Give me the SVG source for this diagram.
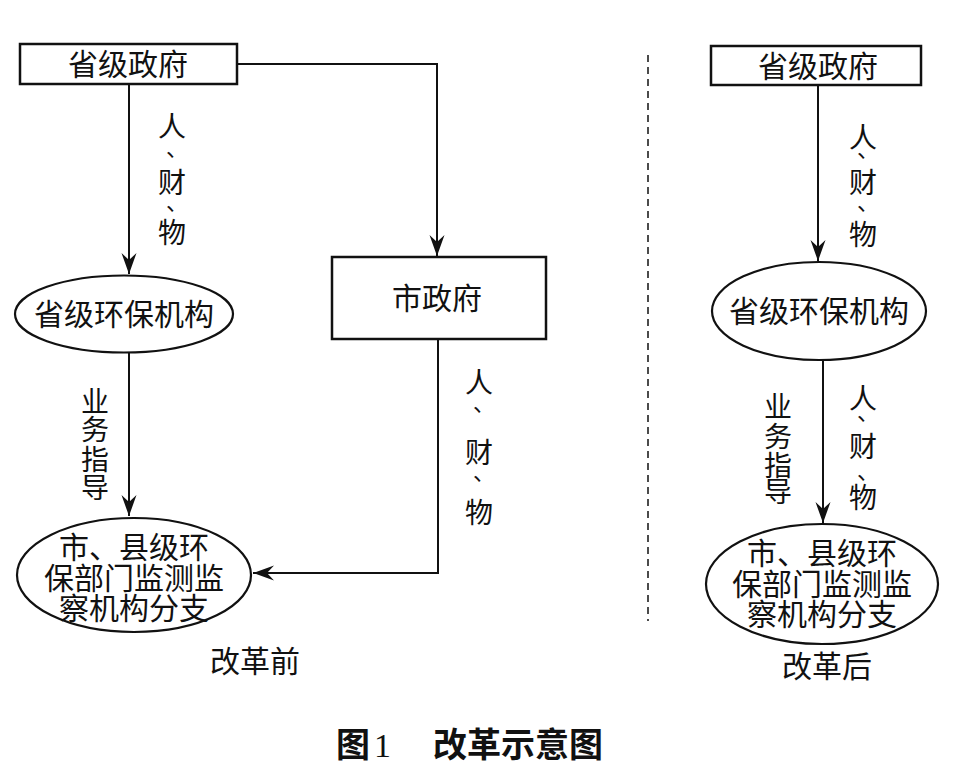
<svg xmlns="http://www.w3.org/2000/svg" width="955" height="783" viewBox="0 0 955 783">
<defs>
<style>
.t{font-family:"Noto Sans CJK SC","Liberation Serif",sans-serif;font-size:30px;fill:#111;text-anchor:middle;}
.l{font-family:"Noto Sans CJK SC","Liberation Serif",sans-serif;font-size:28px;fill:#111;text-anchor:middle;}
.d{font-family:"Noto Sans CJK SC","Liberation Serif",sans-serif;font-size:22px;fill:#111;}
.box{fill:#fff;stroke:#111;stroke-width:2.5;}
.ell{fill:#fff;stroke:#111;stroke-width:2.2;}
.c{fill:none;stroke:#111;stroke-width:2;}
.cap{font-family:"Noto Sans CJK SC",sans-serif;font-size:34px;font-weight:bold;fill:#111;}
</style>
<marker id="ah" viewBox="-22 -8 22 16" refX="0" refY="0" markerWidth="22" markerHeight="16" markerUnits="userSpaceOnUse" orient="auto">
<path d="M0,0 L-21,-7.5 L-14,0 L-21,7.5 Z" fill="#111"/>
</marker>
</defs>
<rect width="955" height="783" fill="#fff"/>

<g id="connectors">
<line class="c" x1="129" y1="84" x2="129" y2="274" marker-end="url(#ah)"/>
<polyline class="c" points="237,64 437,64 437,256" marker-end="url(#ah)"/>
<line class="c" x1="129" y1="353" x2="129" y2="516" marker-end="url(#ah)"/>
<polyline class="c" points="438,339 438,573 253,573" marker-end="url(#ah)"/>
<line class="c" x1="818" y1="85" x2="818" y2="261" marker-end="url(#ah)"/>
<line class="c" x1="823" y1="361" x2="823" y2="523" marker-end="url(#ah)"/>
<line x1="648" y1="55" x2="648" y2="621" stroke="#111" stroke-width="1.5" stroke-dasharray="7 5"/>
</g>

<g id="labels">
<text class="l"><tspan x="172" y="137">人</tspan><tspan x="172" y="193">财</tspan><tspan x="172" y="243">物</tspan></text>
<text class="d"><tspan x="166" y="156">、</tspan><tspan x="166" y="210">、</tspan></text>
<text class="l"><tspan x="95" y="412">业</tspan><tspan x="95" y="440">务</tspan><tspan x="95" y="470">指</tspan><tspan x="95" y="498">导</tspan></text>
<text class="l"><tspan x="479" y="393">人</tspan><tspan x="479" y="463">财</tspan><tspan x="479" y="523">物</tspan></text>
<text class="d"><tspan x="473" y="411">、</tspan><tspan x="473" y="480">、</tspan></text>
<text class="l"><tspan x="863" y="148">人</tspan><tspan x="863" y="193">财</tspan><tspan x="863" y="245">物</tspan></text>
<text class="d"><tspan x="857" y="157">、</tspan><tspan x="857" y="210">、</tspan></text>
<text class="l"><tspan x="778" y="417">业</tspan><tspan x="778" y="447">务</tspan><tspan x="778" y="476">指</tspan><tspan x="778" y="502">导</tspan></text>
<text class="l"><tspan x="863" y="409">人</tspan><tspan x="863" y="457">财</tspan><tspan x="863" y="508">物</tspan></text>
<text class="d"><tspan x="857" y="420">、</tspan><tspan x="857" y="479">、</tspan></text>
</g>

<g id="n-prov-gov-left">
<rect class="box" x="20" y="44" width="217" height="40"/>
<text class="t" x="128" y="75">省级政府</text>
</g>

<g id="n-city-gov">
<rect class="box" x="332" y="257" width="214" height="82"/>
<text class="t" x="437" y="309">市政府</text>
</g>

<g id="n-prov-env-left">
<ellipse class="ell" cx="124" cy="314" rx="109" ry="38.5"/>
<text class="t" x="124" y="325">省级环保机构</text>
</g>

<g id="n-local-left">
<ellipse class="ell" cx="134" cy="575" rx="117" ry="57"/>
<text class="t"><tspan x="134" y="558">市、县级环</tspan><tspan x="134" y="589">保部门监测监</tspan><tspan x="134" y="619">察机构分支</tspan></text>
</g>

<g id="n-before">
<text class="t" x="255" y="672">改革前</text>
</g>

<g id="n-prov-gov-right">
<rect class="box" x="711" y="46" width="210" height="39"/>
<text class="t" x="818" y="77">省级政府</text>
</g>

<g id="n-prov-env-right">
<ellipse class="ell" cx="819" cy="311" rx="107" ry="49"/>
<text class="t" x="819" y="322">省级环保机构</text>
</g>

<g id="n-local-right">
<ellipse class="ell" cx="822" cy="584" rx="116" ry="60"/>
<text class="t"><tspan x="822" y="564">市、县级环</tspan><tspan x="822" y="595">保部门监测监</tspan><tspan x="822" y="625">察机构分支</tspan></text>
</g>

<g id="n-after">
<text class="t" x="827" y="677">改革后</text>
</g>

<g id="caption">
<text class="cap" x="336" y="757">图</text>
<text x="374" y="757" font-family="Liberation Serif" font-size="34" fill="#111">1</text>
<text class="cap" x="433" y="757">改革示意图</text>
</g>
</svg>
